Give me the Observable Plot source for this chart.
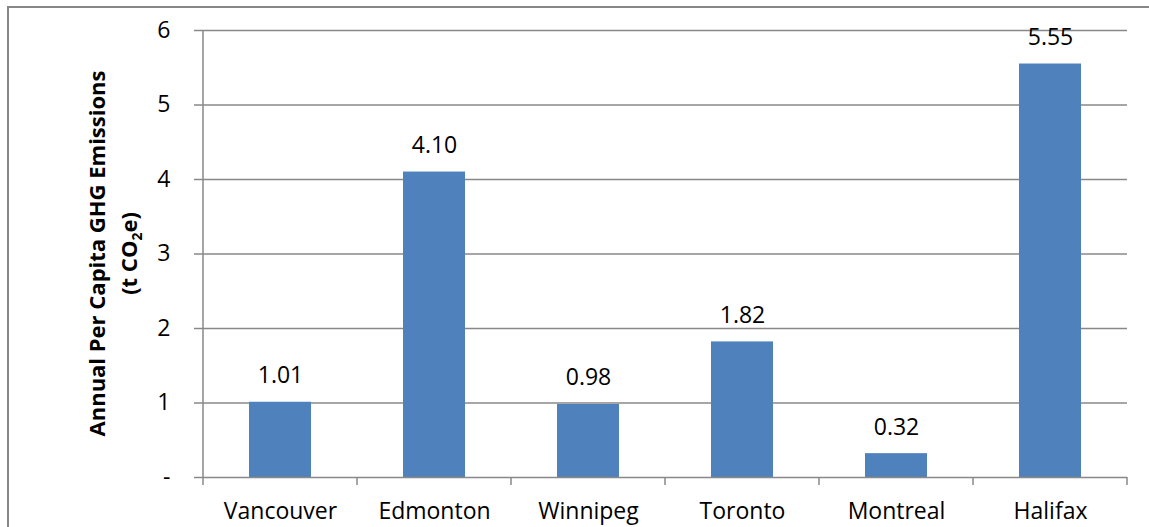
<!DOCTYPE html>
<html><head><meta charset="utf-8">
<script src="https://cdn.jsdelivr.net/npm/d3@7"></script>
<script src="https://cdn.jsdelivr.net/npm/@observablehq/plot@0.6"></script>
<style>
html,body{margin:0;padding:0;background:#fff;}
#wrap{position:relative;width:1149px;height:527px;overflow:hidden;}
#frame{position:absolute;left:7px;top:6px;width:1200px;height:600px;border:2px solid #878787;box-sizing:border-box;}
svg{position:absolute;left:0;top:0;}
</style></head>
<body><div id="wrap"><div id="frame"></div></div>
<script>
const cities = ["Vancouver","Edmonton","Winnipeg","Toronto","Montreal","Halifax"];
const emissions = [1.01, 4.10, 0.98, 1.82, 0.32, 5.55];
const yTicks = [0,1,2,3,4,5,6];
const titleLine1 = "Annual Per Capita GHG Emissions";
const titleLine2 = ["(t CO", "2", "e)"];

const data = cities.map((c,i)=>({city:c, value:emissions[i]}));
const FONT = "'Open Sans', sans-serif";
const GRID = "#888888";
const FS = 23;

const plot = Plot.plot({
  width: 1149, height: 527,
  marginLeft: 202, marginRight: 22, marginTop: 30, marginBottom: 50,
  style: {fontFamily: FONT, fontSize: FS+"px", color: "#000", background: "transparent"},
  x: {domain: cities, paddingInner: 0.6, paddingOuter: 0.3, align: 0.5, label: null},
  y: {domain: [0,6], label: null},
  marks: [
    Plot.ruleY(yTicks.filter(d=>d>0), {stroke: GRID, strokeWidth: 1.5}),
    Plot.barY(data, {x:"city", y:"value", fill:"#4F81BD"}),
    Plot.ruleY([0], {stroke: GRID, strokeWidth: 1.5}),
    Plot.axisY({ticks: yTicks, tickSize: 8, tickPadding: 24, stroke: GRID, strokeWidth: 1.5,
      tickFormat: d => d === 0 ? "-" : String(d), fontSize: FS, fill: "#000"}),
    Plot.axisX({tickSize: 0, tickPadding: 25, fontSize: FS, fill:"#000"}),
    Plot.text(data, {x:"city", y:"value", text: d=>d.value.toFixed(2), lineAnchor:"bottom", dy:-19, fontSize:FS, fill:"#000"})
  ]
});

document.getElementById("wrap").appendChild(plot);
const svg = d3.select(plot);
const xs = plot.scale("x"), ys = plot.scale("y");
const y0 = ys.apply(0), yTop = ys.apply(6);
const step = xs.step, bw = xs.bandwidth;
const xLeft = xs.apply(cities[0]) - (step-bw)/2;
// y axis line
svg.append("line").attr("x1",xLeft).attr("x2",xLeft).attr("y1",yTop).attr("y2",y0+8)
  .attr("stroke",GRID).attr("stroke-width",1.5);
// x axis category boundary ticks
const bounds = cities.map(c => xs.apply(c) + bw + (step-bw)/2);
svg.append("g").selectAll("line").data(bounds).join("line")
  .attr("x1",d=>d).attr("x2",d=>d).attr("y1",y0).attr("y2",y0+8)
  .attr("stroke",GRID).attr("stroke-width",1.5);
// y title
const midY = (y0 + yTop)/2;
const t = svg.append("g").attr("transform",`translate(0,${midY}) rotate(-90)`)
  .attr("font-family",FONT).attr("font-weight","bold").attr("font-size",22).attr("text-anchor","middle").attr("fill","#000");
t.append("text").attr("x",0).attr("y",105).text(titleLine1);
const t2 = t.append("text").attr("x",0).attr("y",137);
t2.append("tspan").text(titleLine2[0]);
t2.append("tspan").attr("font-size",14).attr("dy",5).text(titleLine2[1]);
t2.append("tspan").attr("dy",-5).text(titleLine2[2]);
</script></body></html>
